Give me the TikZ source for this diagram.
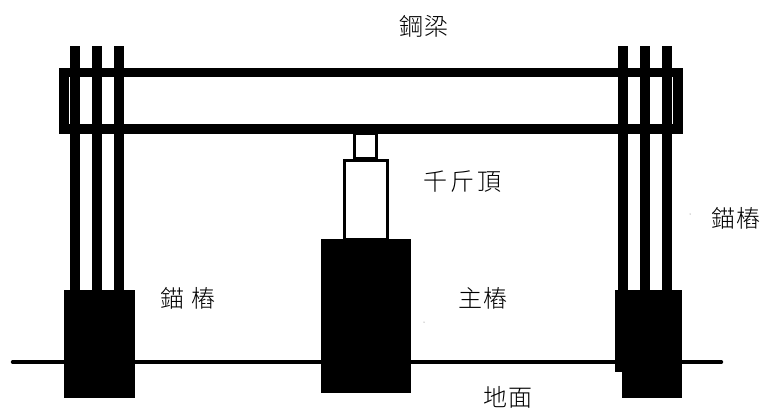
\documentclass[tikz,border=0pt]{standalone}
\usepackage{fontspec}
\newfontfamily\cjk{Noto Sans CJK TC Light}
\tikzset{
  label/.style={inner sep=0pt,font=\cjk\fontsize{24}{28}\selectfont,text=black},
}
\begin{document}
\begin{tikzpicture}[x=1pt,y=-1pt]
\useasboundingbox (0,0) rectangle (761,410);
% ground
\draw[line width=3.4pt,line cap=round] (12.5,362) -- (721.5,362);
% beam
\fill[black] (58.5,67.5) rectangle (682.5,77);
\fill[black] (58.5,123.5) rectangle (682.5,133.5);
\fill[black] (58.5,67.5) rectangle (69,133.5);
\fill[black] (672.6,67.5) rectangle (682.5,133.5);
% left rods
\foreach \x in {70,92,114}{\fill[black] (\x,46) rectangle (\x+10,290);}
% right rods
\foreach \x in {617.7,640,661.5}{\fill[black] (\x,46) rectangle (\x+10,290);}
% anchor piles
\fill[black] (64,289.5) rectangle (134.5,398);
\fill[black] (615.3,289.5) rectangle (681.7,371.7);
\fill[black] (622,289.5) rectangle (681.7,398);
% main pile
\fill[black] (321,239) rectangle (410.7,393);
% jack
\draw[line width=3pt] (354.8,133) rectangle (376.8,158);
\draw[line width=3pt,fill=white] (344.2,160.2) rectangle (387.8,239);
% specks
\fill[black!60] (690,214) circle (0.5);
\fill[black!60] (424,322) circle (0.5);
% labels
\node[label] (beam) at (424,26) {鋼\hspace{2pt}梁};
\node[label] (jack) at (462,182) {千\hspace{3pt}斤\hspace{3pt}頂};
\node[label] (anchorL) at (188,298) {錨\hspace{7pt}樁};
\node[label] (mainp) at (483,298) {主\hspace{2pt}樁};
\node[label] (ground) at (508,397) {地\hspace{2pt}面};
\node[label] (anchorR) at (736,218) {錨\hspace{2pt}樁};
\end{tikzpicture}
\end{document}
